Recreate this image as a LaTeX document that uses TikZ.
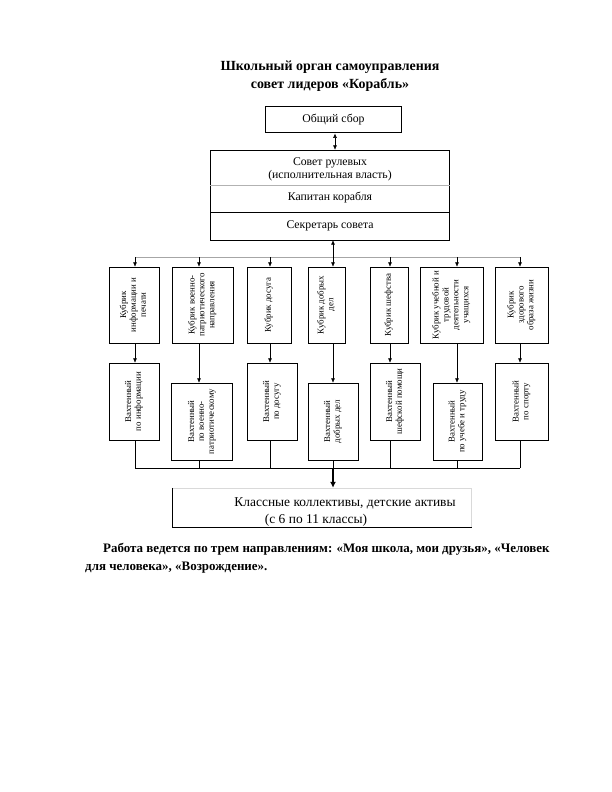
\documentclass[tikz,border=0pt]{standalone}
\usepackage{fontspec}
\setmainfont{Liberation Serif}
\usetikzlibrary{arrows.meta}
\newcommand{\vt}[1]{\rotatebox{90}{\begin{tabular}{@{}c@{}}#1\end{tabular}}}
\begin{document}
\begin{tikzpicture}[x=1bp,y=-1bp,
  box/.style={draw, line width=0.6pt, inner sep=0pt, font=\fontsize{8.9}{10}\selectfont},
  arr/.style={-{Latex[length=4.5pt,width=4pt]}, line width=0.6pt},
  ln/.style={line width=0.6pt},
  lbl/.style={font=\fontsize{11.8}{13}\selectfont, inner sep=0pt},
  klbl/.style={font=\fontsize{13.5}{15}\selectfont, inner sep=0pt},
  bold/.style={font=\fontsize{13}{15}\selectfont\bfseries, inner sep=0pt},
  ttl/.style={font=\fontsize{14}{16}\selectfont\bfseries, inner sep=0pt}]
\useasboundingbox (0,0) rectangle (612,792);
% title
\node[ttl] (title1) at (330,67) {Школьный орган самоуправления};
\node[ttl] (title2) at (330,85) {совет лидеров «Корабль»};
% top
\node[draw, line width=1pt, minimum width=137, minimum height=27, lbl] (sbor) at (333.5,119.5) {Общий сбор};
\node[draw, line width=0.6pt, minimum width=240, minimum height=90] (sovet) at (330,195) {};
\node[lbl] (s1) at (330,163) {Совет рулевых};
\node[lbl] (s2) at (330,175.5) {(исполнительная власть)};
\node[lbl] (s3) at (330,198) {Капитан корабля};
\node[lbl] (s4) at (330,226) {Секретарь совета};
\draw[line width=0.5pt, gray!60] (sovet.west |- 0,185) -- (sovet.east |- 0,185);
\draw[ln] (sovet.west |- 0,212) -- (sovet.east |- 0,212);
\draw[{Latex[length=4.5pt,width=4pt]}-{Latex[length=4.5pt,width=4pt]}, line width=0.6pt] (sbor.south -| 335,0) -- (sovet.north -| 335,0);
% columns
\coordinate (c1) at (135,0);
\coordinate (c2) at (199,0);
\coordinate (c3) at (270,0);
\coordinate (c4) at (333,0);
\coordinate (c5) at (390,0);
\coordinate (c6) at (457,0);
\coordinate (c7) at (520,0);
\coordinate (busT) at (0,257);
\coordinate (busB) at (0,468);
% top row
\node[box, minimum width=50, minimum height=76] (t1) at (134,305) {\vt{Кубрик\\информации и\\печати}};
\node[box, minimum width=61, minimum height=76] (t2) at (202.5,305) {\vt{Кубрик военно-\\патриотического\\направления}};
\node[box, minimum width=44, minimum height=76] (t3) at (269,305) {\vt{Кубрик досуга}};
\node[box, minimum width=37, minimum height=76] (t4) at (326.5,305) {\vt{Кубрик добрых\\дел}};
\node[box, minimum width=38, minimum height=76] (t5) at (389,305) {\vt{Кубрик шефства}};
\node[box, minimum width=63, minimum height=76] (t6) at (451.5,305) {\vt{Кубрик учебной и\\трудовой\\деятельности\\учащихся}};
\node[box, minimum width=53, minimum height=76] (t7) at (521.5,305) {\vt{Кубрик\\здорового\\образа жизни}};
% bottom row
\node[box, minimum width=50, minimum height=77] (b1) at (134,401.5) {\vt{Вахтенный\\по информации}};
\node[box, minimum width=61, minimum height=77] (b2) at (202,421.5) {\vt{Вахтенный\\по военно-\\патриотическому}};
\node[box, minimum width=50, minimum height=77] (b3) at (272,401.5) {\vt{Вахтенный\\по досугу}};
\node[box, minimum width=50, minimum height=77] (b4) at (333,421.5) {\vt{Вахтенный\\добрых дел}};
\node[box, minimum width=50, minimum height=77] (b5) at (395,401.5) {\vt{Вахтенный\\шефской помощи}};
\node[box, minimum width=49, minimum height=77] (b6) at (457.5,421.5) {\vt{Вахтенный\\по учебе и труду}};
\node[box, minimum width=53, minimum height=77] (b7) at (521.5,401.5) {\vt{Вахтенный\\по спорту}};
% top bus
\draw[line width=0.6pt, gray!70] (busT -| c1) -- (busT -| c7);
\draw[arr] (busT -| c4) -- (sovet.south -| c4);
\foreach \i in {1,...,7} {
  \draw[arr] (busT -| c\i) -- (t\i.north -| c\i);
  \draw[arr] (t\i.south -| c\i) -- (b\i.north -| c\i);
  \draw[ln] (b\i.south -| c\i) -- (busB -| c\i);
}
\draw[ln] (busB -| c1) -- (busB -| c7);
% bottom box
\node[draw=gray!30, line width=0.6pt, minimum width=300, minimum height=39] (klass) at (322,507.5) {};
\draw[ln] (klass.north west) -- (klass.south west) -- (klass.south east);
\draw[-{Latex[length=6pt,width=6pt]}, line width=1.2pt] (busB -| c4) -- (klass.north -| c4);
\node[klbl] (k1) at (345,503) {Классные коллективы, детские активы};
\node[klbl] (k2) at (316,520) {(с 6 по 11 классы)};
% paragraph
\node[bold, anchor=base west] (p1) at (103,552) {Работа ведется по трем направлениям: «Моя школа, мои друзья», «Человек};
\node[bold, anchor=base west] (p2) at (85,570) {для человека», «Возрождение».};
\end{tikzpicture}
\end{document}
